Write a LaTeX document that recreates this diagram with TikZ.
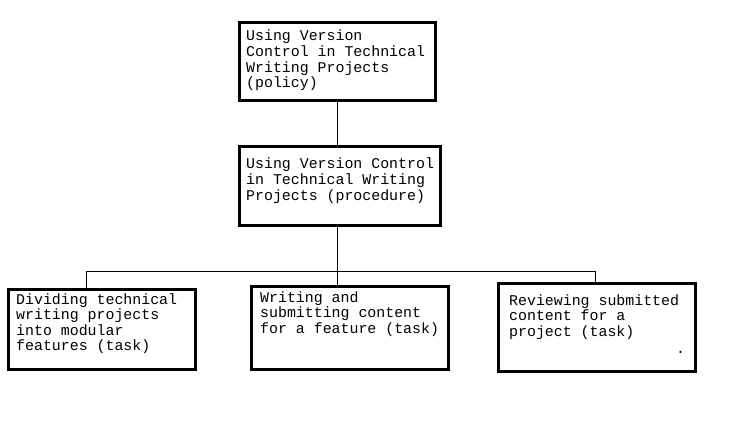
\documentclass[tikz,border=0pt]{standalone}
\usepackage{fontspec}
\setmonofont{Liberation Mono}
\begin{document}
\begin{tikzpicture}[x=1pt,y=-1pt,
  box/.style={draw=black,line width=3pt,inner sep=0pt,fill=white},
  txt/.style={anchor=north west,inner sep=0pt,align=left,font=\ttfamily\fontsize{14.9}{15.6}\selectfont},
  conn/.style={draw=black,line width=1pt}]
\useasboundingbox (0,0) rectangle (741,423);
\fill[white] (0,0) rectangle (741,423);
% boxes
\node[box,minimum width=196,minimum height=78] (b1) at (337.5,61.5) {};
\node[box,minimum width=201,minimum height=79] (b2) at (340,186) {};
\node[box,minimum width=187,minimum height=80] (b3) at (102,329.5) {};
\node[box,minimum width=197,minimum height=83] (b4) at (350,328) {};
\node[box,minimum width=197,minimum height=88] (b5) at (597,327.5) {};
% texts
\node[txt] (t1) at (246,30) {Using Version\\Control in Technical\\Writing Projects\\(policy)};
\node[txt] (t2) at (246,158) {Using Version Control\\in Technical Writing\\Projects (procedure)};
\node[txt] (t3) at (16,293) {Dividing technical\\writing projects\\into modular\\features (task)};
\node[txt] (t4) at (260,291) {Writing and\\submitting content\\for a feature (task)};
\node[txt] (t5) at (509,294) {Reviewing submitted\\content for a\\project (task)};
\node[txt] (dot) at (676,351) {.};
% connectors
\coordinate (j) at (337,271);
\coordinate (h1) at (86,271);
\coordinate (h3) at (595,271);
\draw[conn] (b1.south) -- (b1.south |- b2.north);
\draw[conn] (j |- b2.south) -- (j);
\draw[conn] (h1) -- (h3);
\draw[conn] (h1) -- (h1 |- b3.north);
\draw[conn] (j) -- (j |- b4.north);
\draw[conn] (h3) -- (h3 |- b5.north);
\end{tikzpicture}
\end{document}
